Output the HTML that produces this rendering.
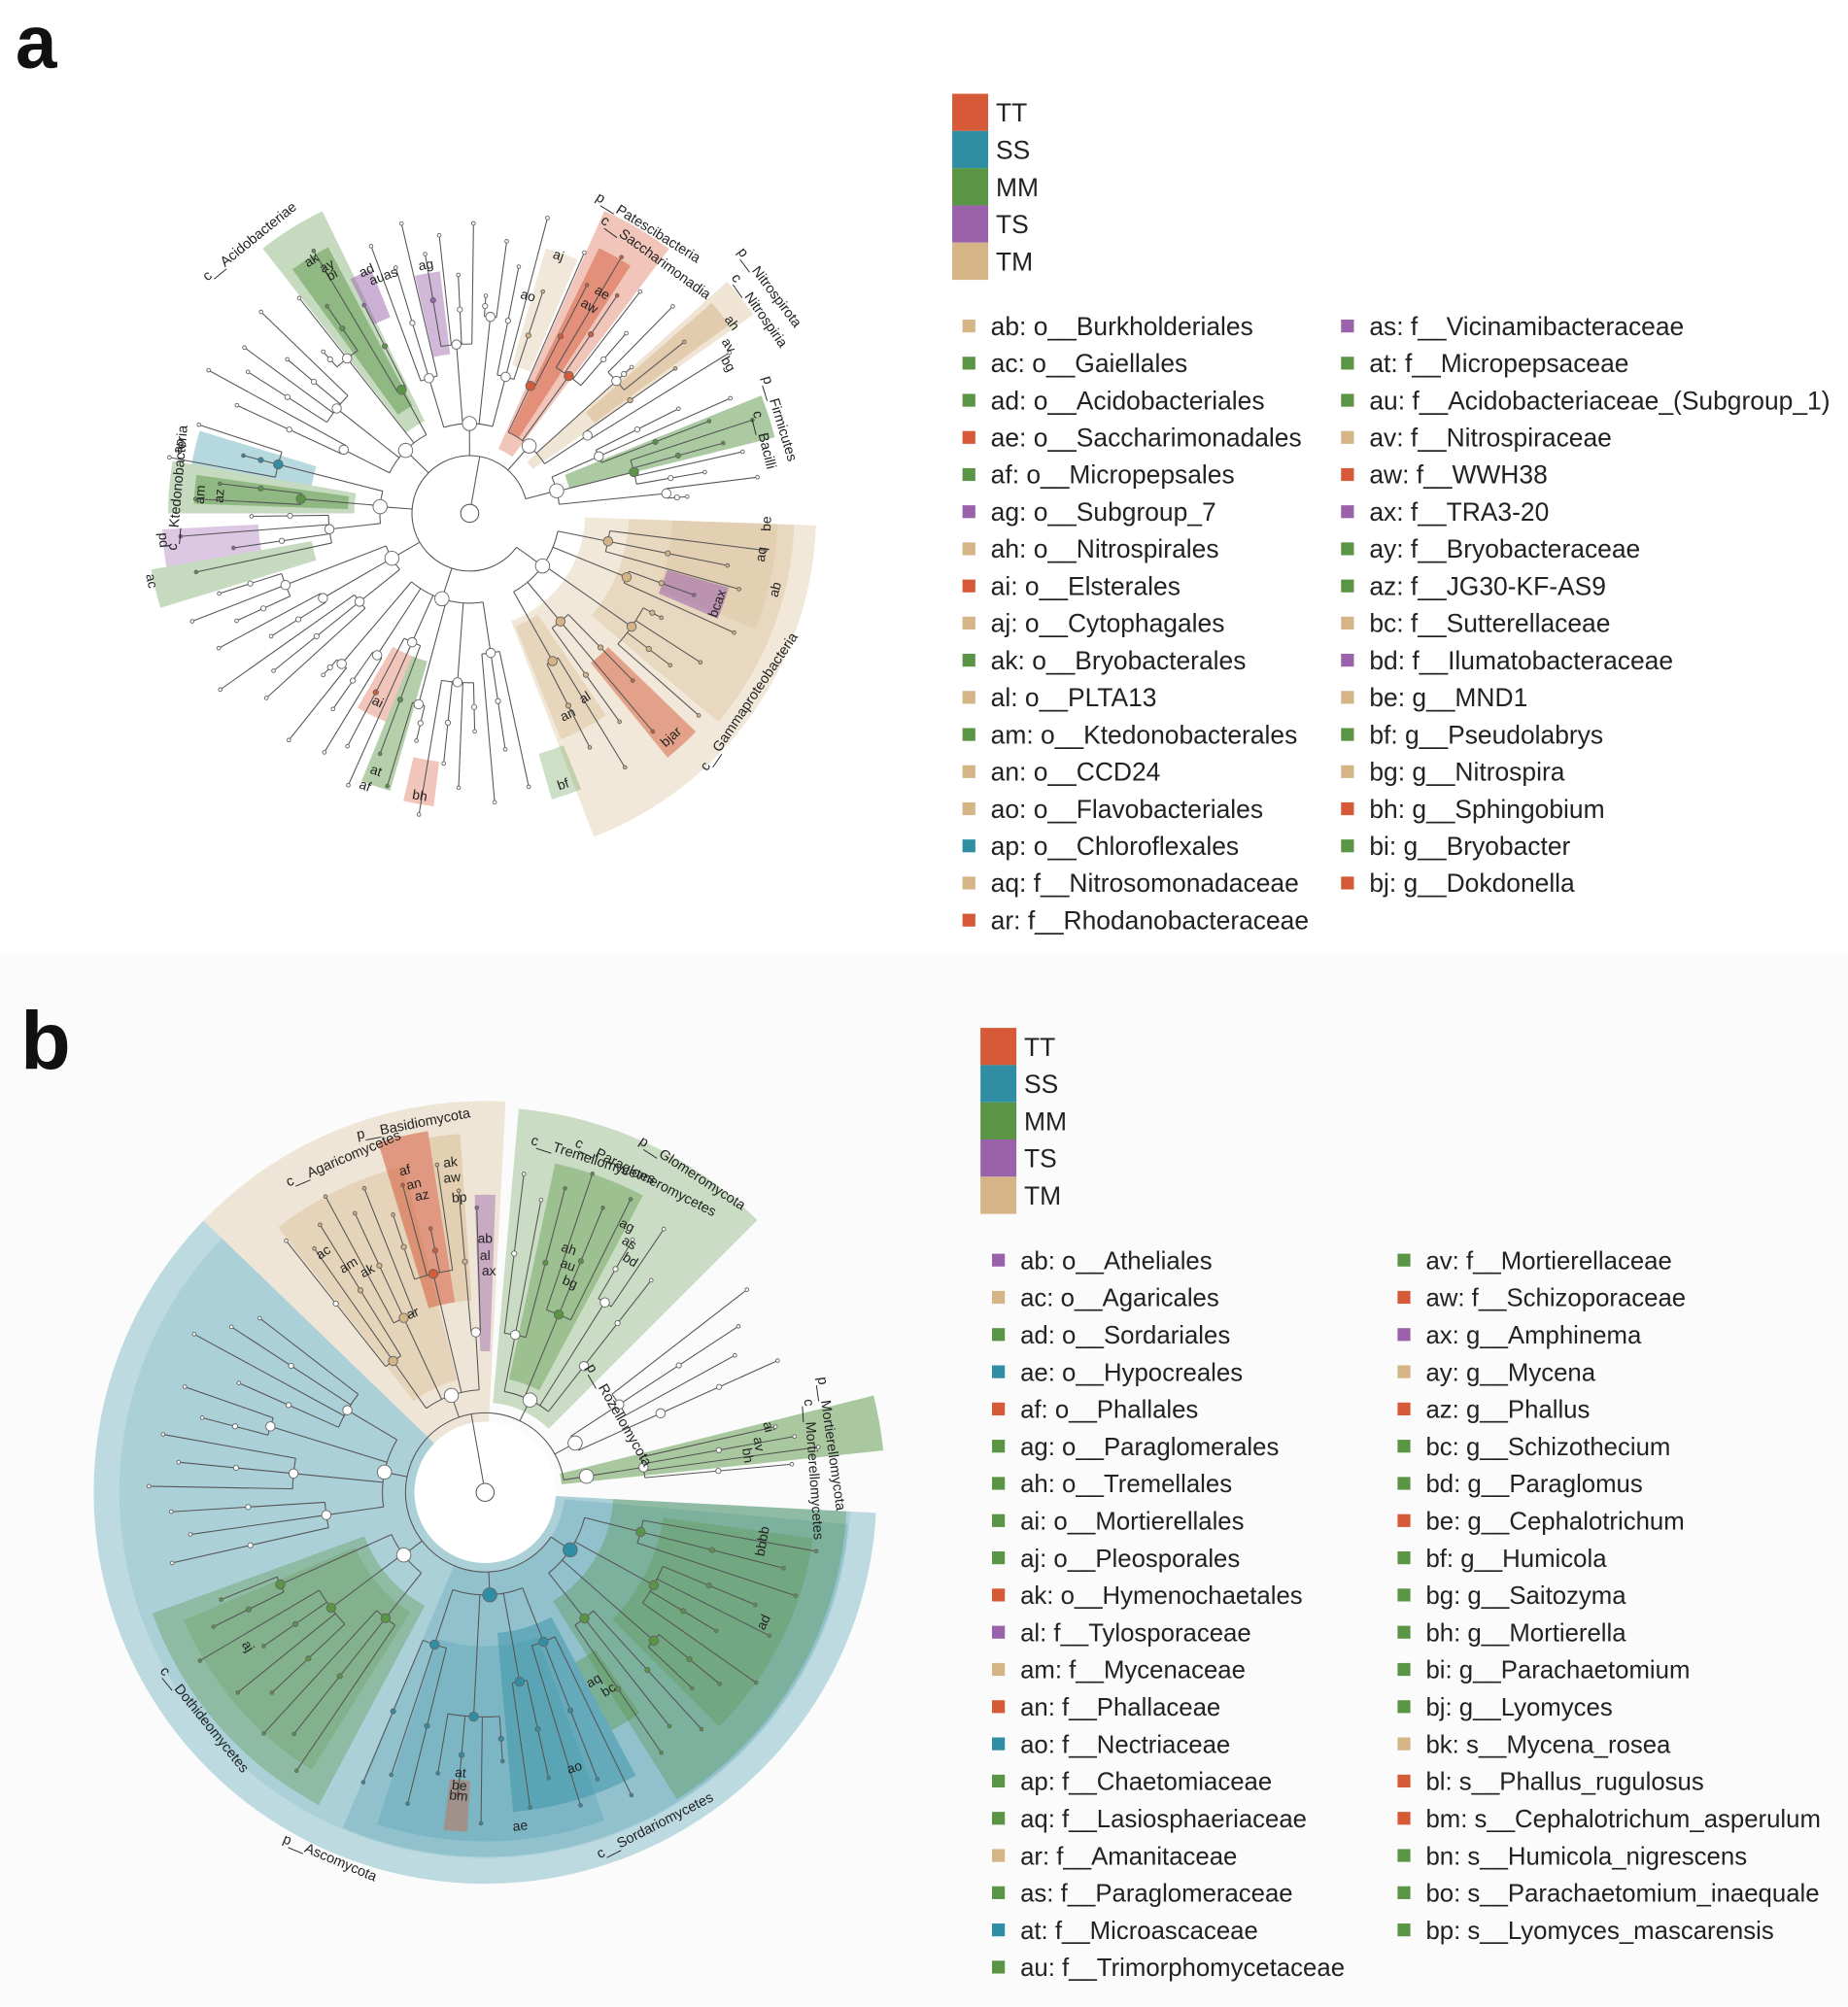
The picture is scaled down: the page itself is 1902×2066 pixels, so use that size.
<!DOCTYPE html>
<html><head><meta charset="utf-8">
<style>
html,body{margin:0;padding:0;background:#fff;}
svg{display:block;font-family:"Liberation Sans",Arial,sans-serif;}
</style></head>
<body>
<svg id="fig" xmlns="http://www.w3.org/2000/svg" width="1902" height="2066" viewBox="0 0 1440 1564">
<rect x="0" y="0" width="1440" height="1564" fill="#ffffff"/>
<rect x="0" y="742" width="1440" height="822" fill="#fbfbfb"/>
<text x="12" y="53" font-size="58" font-weight="bold" fill="#111">a</text>
<text x="16" y="833" font-size="64" font-weight="bold" fill="#111">b</text>
<g id="treeA"></g>
<g id="treeB"></g>
<g id="legA"></g>
<g id="legB"></g>
</svg>
<script>
const NS="http://www.w3.org/2000/svg";
const COL={TT:"#d65a38",SS:"#2f8ea3",MM:"#5a9545",TS:"#9a62ab",TM:"#d5b485"};
const groupNames=["TT","SS","MM","TS","TM"];

// ---------- legend data ----------
const legendA1=[["ab: o__Burkholderiales","TM"],["ac: o__Gaiellales","MM"],["ad: o__Acidobacteriales","MM"],["ae: o__Saccharimonadales","TT"],["af: o__Micropepsales","MM"],["ag: o__Subgroup_7","TS"],["ah: o__Nitrospirales","TM"],["ai: o__Elsterales","TT"],["aj: o__Cytophagales","TM"],["ak: o__Bryobacterales","MM"],["al: o__PLTA13","TM"],["am: o__Ktedonobacterales","MM"],["an: o__CCD24","TM"],["ao: o__Flavobacteriales","TM"],["ap: o__Chloroflexales","SS"],["aq: f__Nitrosomonadaceae","TM"],["ar: f__Rhodanobacteraceae","TT"]];
const legendA2=[["as: f__Vicinamibacteraceae","TS"],["at: f__Micropepsaceae","MM"],["au: f__Acidobacteriaceae_(Subgroup_1)","MM"],["av: f__Nitrospiraceae","TM"],["aw: f__WWH38","TT"],["ax: f__TRA3-20","TS"],["ay: f__Bryobacteraceae","MM"],["az: f__JG30-KF-AS9","MM"],["bc: f__Sutterellaceae","TM"],["bd: f__Ilumatobacteraceae","TS"],["be: g__MND1","TM"],["bf: g__Pseudolabrys","MM"],["bg: g__Nitrospira","TM"],["bh: g__Sphingobium","TT"],["bi: g__Bryobacter","MM"],["bj: g__Dokdonella","TT"]];
const legendB1=[["ab: o__Atheliales","TS"],["ac: o__Agaricales","TM"],["ad: o__Sordariales","MM"],["ae: o__Hypocreales","SS"],["af: o__Phallales","TT"],["ag: o__Paraglomerales","MM"],["ah: o__Tremellales","MM"],["ai: o__Mortierellales","MM"],["aj: o__Pleosporales","MM"],["ak: o__Hymenochaetales","TT"],["al: f__Tylosporaceae","TS"],["am: f__Mycenaceae","TM"],["an: f__Phallaceae","TT"],["ao: f__Nectriaceae","SS"],["ap: f__Chaetomiaceae","MM"],["aq: f__Lasiosphaeriaceae","MM"],["ar: f__Amanitaceae","TM"],["as: f__Paraglomeraceae","MM"],["at: f__Microascaceae","SS"],["au: f__Trimorphomycetaceae","MM"]];
const legendB2=[["av: f__Mortierellaceae","MM"],["aw: f__Schizoporaceae","TT"],["ax: g__Amphinema","TS"],["ay: g__Mycena","TM"],["az: g__Phallus","TT"],["bc: g__Schizothecium","MM"],["bd: g__Paraglomus","MM"],["be: g__Cephalotrichum","TT"],["bf: g__Humicola","MM"],["bg: g__Saitozyma","MM"],["bh: g__Mortierella","MM"],["bi: g__Parachaetomium","MM"],["bj: g__Lyomyces","MM"],["bk: s__Mycena_rosea","TM"],["bl: s__Phallus_rugulosus","TT"],["bm: s__Cephalotrichum_asperulum","TT"],["bn: s__Humicola_nigrescens","MM"],["bo: s__Parachaetomium_inaequale","MM"],["bp: s__Lyomyces_mascarensis","MM"]];

function el(tag,attrs,parent){const e=document.createElementNS(NS,tag);for(const k in attrs)e.setAttribute(k,attrs[k]);parent.appendChild(e);return e;}

function legend(gid,x0,y0,boxW,rowH,c1,c2,c1x,c2x,itemY,itemH,fs){
  const g=document.getElementById(gid);
  groupNames.forEach((n,i)=>{
    const r=el("rect",{x:x0,y:y0+i*rowH,width:boxW,height:rowH,fill:COL[n]},g);
    
    
    const t=el("text",{x:x0+boxW+6,y:y0+i*rowH+rowH*0.75,"font-size":20,fill:"#222"},g);
    t.textContent=n;
    
    
  });
  [[c1,c1x],[c2,c2x]].forEach(([list,x])=>{
    list.forEach((it,i)=>{
      const y=itemY+i*itemH;
      const s=el("rect",{x:x,y:y-5,width:10,height:10,fill:COL[it[1]]},g);
      
      
      const t=el("text",{x:x+22,y:y+7,"font-size":fs,fill:"#222"},g);
      t.textContent=it[0];
      
      
    });
  });
}
legend("legA",742,73,28,29,legendA1,legendA2,750,1045,254,28.94,20);
legend("legB",764,801,28,29,legendB1,legendB2,773,1089,982,29.0,19.5);

// ---------- geometry helpers ----------
function P(cx,cy,r,a){const t=a*Math.PI/180;return [cx+r*Math.cos(t),cy+r*Math.sin(t)];}
function sector(cx,cy,r0,r1,a0,a1){
  const L=(a1-a0)>180?1:0;
  const p1=P(cx,cy,r1,a0),p2=P(cx,cy,r1,a1),p3=P(cx,cy,r0,a1),p4=P(cx,cy,r0,a0);
  return `M${p1} A${r1} ${r1} 0 ${L} 1 ${p2} L${p3} A${r0} ${r0} 0 ${L} 0 ${p4}Z`;
}
function arc(cx,cy,r,a0,a1){
  const L=(a1-a0)>180?1:0;const p1=P(cx,cy,r,a0),p2=P(cx,cy,r,a1);
  return `M${p1} A${r} ${r} 0 ${L} 1 ${p2}`;
}

// ---------- panel A data ----------
const groupsA=[[5,65,14],[76,134,16],[136,164,8],[166,200,9],[203,245,11],[248,290,12],[292,330,11],[332,357,9]];
const tipLenA=[232,205,218,186,226,170,214,196,238,182,222,200];
const clusterA=[3,2,4,3,2,3,4,2];
const wedgesA=[[90,270,2,69,"TM",0.3],[124,253,2,40,"TM",0.3],[158,240,2,22,"TM",0.25],[95,190,56,68,"TM",0.35],
 [150,245,44,51,"TT",0.5],[160,210,16,23,"TS",0.55],
 [80,262,232,244,"MM",0.35],[95,235,234,242,"MM",0.5],[165,205,243,248,"TS",0.5],[125,190,257,263,"TS",0.45],
 [120,215,286,293,"TM",0.3],[55,258,294,307,"TT",0.35],[70,230,296,303,"TT",0.5],
 [60,270,318,325,"TM",0.35],[120,250,319,324,"TM",0.5],[80,245,338,346,"MM",0.5],
 [125,220,190,197,"SS",0.35],[90,235,180,190,"MM",0.35],[95,215,182,188,"MM",0.5],
 [165,240,170,177,"TS",0.35],[125,252,163,170,"MM",0.35],
 [120,175,112,120,"TT",0.35],[120,225,106,112,"MM",0.45],[195,230,97,103,"TT",0.35],[195,232,68,74,"MM",0.3]];
const labelsA=[["c__Acidobacteriae",231,272],["ak",238,232],["ay",240,222],["bi",240,214],["ad",247,205],["auas",250,196],["ag",260,196],
 ["aj",289,212],["ao",285,175],["ae",301,200],["aw",300,186],["p__Patescibacteria",302,262],["c__Saccharimonadia",306,246],
 ["p__Nitrospirota",323,292],["c__Nitrospiria",325,275],["ah",324,252],["av",327,240],["bg",330,232],["p__Firmicutes",343,252],["c__Bacilli",346,236],
 ["ap",193,232],["c__Ktedonobacteria",185,228],["am",184,210],["az",184,195],["pd",175,240],["ac",168,254],
 ["ai",116,164],["at",110,214],["af",111,228],["bh",100,224],["bf",71,224],["an",64,175],["al",58,170],["bjar",48,235],
 ["bcax",20,206],["ab",14,246],["aq",8,230],["be",2,232],["c__Gammaproteobacteria",34,263]];

// ---------- panel B data ----------
const groupsB=[[8,58,12],[62,115,12],[122,160,9],[165,220,12],[230,270,12],[275,310,9],[320,338,4],[346,356,4]];
const tipLenB=[262,240,255,228,248,210,258,236,222,250,232,245];
const clusterB=[3,4,2,3,3,2,4,3];
const wedgesB=[[55,305,3,224,"SS",0.3],[55,285,3,224,"SS",0.12],[62,284,5,113,"SS",0.22],[100,282,3,58,"MM",0.35],[140,258,8,45,"MM",0.3],
 [110,250,62,85,"SS",0.45],[120,272,70,108,"SS",0.2],[225,265,93,97,"TT",0.4],[150,210,55,62,"MM",0.4],
 [100,276,118,160,"MM",0.35],[110,255,122,157,"MM",0.25],
 [55,305,224,273,"TM",0.3],[90,262,232,256,"TM",0.35],[150,285,253,261,"TT",0.55],[150,280,261,266,"TM",0.45],[110,232,268,272,"TS",0.45],
 [70,300,275,315,"MM",0.3],[90,262,282,298,"MM",0.4],[60,312,346,354,"MM",0.5]];
const labelsB=[["p__Basidiomycota",259,292],["c__Agaricomycetes",247,282],["c__Tremellomycetes",288,272],["c__Paraglomeromycetes",297,275],["p__Glomeromycota",303,296],
 ["ac",236,225],["am",239,206],["ak",242,195],["af",256,258],["an",257,246],["az",258,236],["ak",264,258],["aw",264,246],["bp",265,230],["ar",248,150],
 ["ab",270,197],["al",270,184],["ax",271,172],["ah",289,200],["au",290,188],["bg",292,176],["ag",298,235],["as",300,224],["bd",302,213],
 ["p__Rozellomycota",330,120],["p__Mortierellomycota",352,272],["c__Mortierellomycetes",356,256],["ai",347,226],["av",350,216],["bh",352,206],
 ["ad",25,240],["bbbb",10,220],["aj",147,221],["c__Dothideomycetes",141,282],["p__Ascomycota",113,310],["c__Sordariomycetes",63,292],
 ["ao",72,226],["ae",84,262],["bm",95,238],["be",95,230],["at",95,220],["bc",58,182],["aq",60,170]];

function wedgeColorAt(wedges,r,a){
  let c=null;let best=-1;
  wedges.forEach(w=>{const aa=((a%360)+360)%360;if(r>=w[0]&&r<=w[1]&&aa>=w[2]&&aa<=w[3]&&w[5]>=best&&w[1]-w[0]<230){c=w[4];best=w[5];}});
  return c;
}

function drawPanel(gid,cx,cy,groups,tipLen,clusters,wedges,labels,R){
  const g=document.getElementById(gid);
  wedges.forEach(w=>{
    const p=el("path",{d:sector(cx,cy,w[0],w[1],w[2],w[3]),fill:COL[w[4]],"fill-opacity":w[5]},g);
    
    
  });
  const lines=el("g",{stroke:"#555","stroke-width":0.8,fill:"none"},g);
  const nodes=el("g",{},g);
  function node(r,a,size){
    const col=wedgeColorAt(wedges,r,a);
    const [x,y]=P(cx,cy,r,a);
    const c=el("circle",{cx:x,cy:y,r:size,fill:col?COL[col]:"#fff",stroke:"#666","stroke-width":0.7},nodes);
    
    
  }
  const gAngles=[];let li=0,ci=0;
  groups.forEach((gr,gi)=>{
    const [a0,a1,n]=gr;const step=(a1-a0)/n;const leaves=[];
    for(let i=0;i<n;i++)leaves.push(a0+(i+0.5)*step);
    const cl=[];let k=0;
    while(k<n){const sz=Math.min(clusters[ci++%clusters.length],n-k);cl.push(leaves.slice(k,k+sz));k+=sz;}
    const cA=[];
    cl.forEach((c,j)=>{
      const cr=R.c+((j%3)*R.cs);
      const ca=c.reduce((s,v)=>s+v,0)/c.length;cA.push([ca,cr]);
      if(c.length>1)el("path",{d:arc(cx,cy,cr,c[0],c[c.length-1])},lines);
      c.forEach(a=>{
        const tl=tipLen[li++%tipLen.length];
        const s=P(cx,cy,cr,a),e=P(cx,cy,tl,a);
        el("line",{x1:s[0],y1:s[1],x2:e[0],y2:e[1]},lines);
        node(tl,a,1.4);
        if(li%2===0)node((cr+tl)/2,a,2);
      });
    });
    const ga=cA.reduce((s,v)=>s+v[0],0)/cA.length;gAngles.push(ga);
    el("path",{d:arc(cx,cy,R.g,cA[0][0],cA[cA.length-1][0])},lines);
    cA.forEach(([a,cr])=>{const s=P(cx,cy,R.g,a),e=P(cx,cy,cr,a);el("line",{x1:s[0],y1:s[1],x2:e[0],y2:e[1]},lines);node(cr,a,3.6);});
    const s=P(cx,cy,R.root,ga),e=P(cx,cy,R.g,ga);el("line",{x1:s[0],y1:s[1],x2:e[0],y2:e[1]},lines);
    node(R.g,ga,5.5);
  });
  el("path",{d:arc(cx,cy,R.root,gAngles[0],gAngles[gAngles.length-1])},lines);
  const rp=P(cx,cy,R.root,R.rootA);
  el("line",{x1:cx,y1:cy,x2:rp[0],y2:rp[1]},lines);
  const rc=el("circle",{cx:cx,cy:cy,r:7,fill:"#fff",stroke:"#555","stroke-width":0.8},nodes);
  
  
  labels.forEach(([t,a,r])=>{
    const [x,y]=P(cx,cy,r,a);
    let rot=a+90; const aa=((a%360)+360)%360; if(aa<180)rot=a-90;
    const tx=el("text",{x:x,y:y,"font-size":t.length>4?11:10.5,fill:"#222","text-anchor":"middle","dominant-baseline":"middle",transform:`rotate(${rot} ${x} ${y})`},g);
    tx.textContent=t;
    
    
  });
}
drawPanel("treeA",366,400,groupsA,tipLenA,clusterA,wedgesA,labelsA,{root:45,g:70,c:110,cs:22,rootA:-80});
drawPanel("treeB",378,1163,groupsB,tipLenB,clusterB,wedgesB,labelsB,{root:62,g:80,c:125,cs:25,rootA:-100});
(function(){const g=document.getElementById("treeB");const d=document.createElementNS(NS,"circle");
d.setAttribute("cx",378);d.setAttribute("cy",1163);d.setAttribute("r",55);d.setAttribute("fill","#fff");


g.insertBefore(d,g.children[wedgesB.length]);})();
</script>
</body></html>
